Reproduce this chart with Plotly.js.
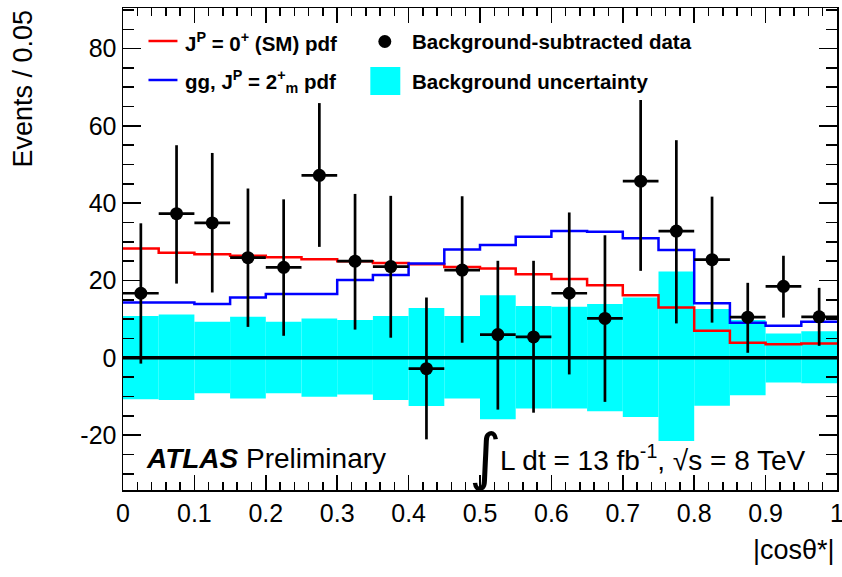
<!DOCTYPE html>
<html>
<head>
<meta charset="utf-8">
<script src="https://cdn.plot.ly/plotly-3.0.1.min.js"></script>
<style>body{margin:0;background:#fff}</style>
</head>
<body>
<div id="chart" style="width:842px;height:577px"></div>
<script>
// ---- data ----
const binCenters = [0.025,0.075,0.125,0.175,0.225,0.275,0.325,0.375,0.425,0.475,
                    0.525,0.575,0.625,0.675,0.725,0.775,0.825,0.875,0.925,0.975];
const binHalfWidth = [0.025,0.025,0.025,0.025,0.025,0.025,0.025,0.025,0.025,0.025,
                      0.025,0.025,0.025,0.025,0.025,0.025,0.025,0.025,0.025,0.025];
const dataValues = [16.7,37.3,34.9,25.9,23.4,47.2,25.0,23.6,-2.8,22.7,
                    6.0,5.4,16.7,10.2,45.7,32.8,25.4,10.5,18.5,10.6];
const dataErrUp   = [18.1,17.7,18.1,17.9,17.6,18.7,17.4,18.3,18.4,19.1,
                     19.1,19.7,20.9,21.5,21.0,23.5,16.3,8.9,7.9,7.5];
const dataErrDown = [18.2,18.1,18.0,17.9,17.7,18.5,17.7,18.4,18.3,18.8,
                     19.4,19.6,21.0,21.6,23.2,23.9,16.3,9.2,8.1,7.5];
const smPdf    = [28.3,27.2,26.8,26.4,26.0,25.5,25.0,24.5,24.2,23.5,
                  23.1,21.6,20.4,18.8,16.2,13.0,7.0,3.9,3.5,3.7];
const spin2Pdf = [14.3,14.3,13.9,15.6,16.5,16.5,20.1,21.4,24.4,28.0,
                  29.2,31.3,32.8,32.6,30.9,27.9,14.1,9.1,8.3,9.3];
const bandUp   = [10.8,11.2,9.3,10.6,9.3,10.2,9.8,10.8,12.9,10.8,
                  16.2,13.4,13.2,13.9,15.6,22.3,12.6,9.8,6.3,6.9];
const bandDown = [-10.7,-10.9,-9.2,-10.5,-9.2,-10.1,-9.5,-10.9,-12.5,-10.5,
                  -15.9,-13.1,-13.1,-13.8,-15.3,-21.5,-12.4,-9.7,-6.4,-6.6];
const xTickVals = [0,0.1,0.2,0.3,0.4,0.5,0.6,0.7,0.8,0.9,1];
const xTickText = ['0','0.1','0.2','0.3','0.4','0.5','0.6','0.7','0.8','0.9','1'];
const yTickVals = [-20,0,20,40,60,80];
const yTickText = ['-20','0','20','40','60','80'];

// ---- helpers ----
function stepEdges(c, hw){ const e = c.map((v,i)=>v-hw[i]); e.push(c[c.length-1]+hw[hw.length-1]); return e; }
function stepVals(v){ const r = v.slice(); r.push(v[v.length-1]); return r; }
const edges = stepEdges(binCenters, binHalfWidth);

const FONT = 'Liberation Sans, Arial, Helvetica, sans-serif';
const L=122.5, R=837, T=8, B=490;
const px = p => (p-L)/(R-L);
const py = p => (B-p)/(B-T);

const traces = [
  { type:'bar', x:binCenters, base:bandDown, y:bandUp.map((u,i)=>u-bandDown[i]),
    width:binHalfWidth.map(h=>2*h), marker:{color:'#00ffff', line:{width:0}},
    hoverinfo:'skip', showlegend:false },
  { type:'scatter', mode:'lines', x:[edges[0], edges[edges.length-1]], y:[0,0],
    line:{color:'#000', width:3.5}, showlegend:false, hoverinfo:'skip' },
  { type:'scatter', mode:'lines', x:edges, y:stepVals(smPdf),
    line:{color:'#ff0000', width:2.5, shape:'hv'}, showlegend:false },
  { type:'scatter', mode:'lines', x:edges, y:stepVals(spin2Pdf),
    line:{color:'#0000ff', width:2.5, shape:'hv'}, showlegend:false },
  { type:'scatter', mode:'markers', x:binCenters, y:dataValues,
    marker:{color:'#000', size:13},
    error_y:{type:'data', symmetric:false, array:dataErrUp, arrayminus:dataErrDown, color:'#000', thickness:2.7, width:0},
    error_x:{type:'data', array:binHalfWidth, color:'#000', thickness:2.7, width:0},
    showlegend:false }
];

const axisCommon = {
  showgrid:false, zeroline:false, showline:true, linecolor:'#000', linewidth:1.5,
  mirror:'allticks', ticks:'inside', tickcolor:'#000', tickwidth:1.5,
  ticklabeloverflow:'allow',
  tickfont:{family:FONT, size:25, color:'#000'}
};

const layout = {
  width:842, height:577,
  margin:{l:L, r:842-R, t:T, b:577-B},
  paper_bgcolor:'#fff', plot_bgcolor:'#fff',
  barmode:'overlay', showlegend:false,
  xaxis: Object.assign({}, axisCommon, {
    range:[0,1], tickmode:'array', tickvals:xTickVals, ticktext:xTickText, ticklen:15,
    minor:{tickmode:'linear', tick0:0, dtick:0.02, ticklen:8, ticks:'inside', tickcolor:'#000', tickwidth:1.5}
  }),
  yaxis: Object.assign({}, axisCommon, {
    range:[-34.2,90.5], tickmode:'array', tickvals:yTickVals, ticktext:yTickText, ticklen:18,
    minor:{tickmode:'linear', tick0:0, dtick:5, ticklen:11, ticks:'inside', tickcolor:'#000', tickwidth:1.5}
  }),
  shapes:[
    {type:'line', xref:'paper', yref:'paper', x0:px(148), x1:px(177), y0:py(41), y1:py(41), line:{color:'#ff0000', width:2.5}},
    {type:'line', xref:'paper', yref:'paper', x0:px(148), x1:px(177), y0:py(80), y1:py(80), line:{color:'#0000ff', width:2.5}},
    {type:'circle', xref:'paper', yref:'paper', x0:px(378), x1:px(391), y0:py(35), y1:py(48), fillcolor:'#000', line:{color:'#000', width:0}},
    {type:'rect', xref:'paper', yref:'paper', x0:px(370), x1:px(400), y0:py(67), y1:py(95), fillcolor:'#00ffff', line:{width:0}}
  ],
  annotations:[
    {xref:'paper', yref:'paper', x:px(183), y:py(42), xanchor:'left', yanchor:'middle', showarrow:false,
     text:'<b>J<sup>P</sup> = 0<sup>+</sup> (SM) pdf</b>', font:{family:FONT, size:20.5, color:'#000'}},
    {xref:'paper', yref:'paper', x:px(183), y:py(81), xanchor:'left', yanchor:'middle', showarrow:false,
     text:'<b>gg, J<sup>P</sup> = 2<sup>+</sup><sub>m</sub> pdf</b>', font:{family:FONT, size:20.5, color:'#000'}},
    {xref:'paper', yref:'paper', x:px(410), y:py(42), xanchor:'left', yanchor:'middle', showarrow:false,
     text:'<b>Background-subtracted data</b>', font:{family:FONT, size:20.5, color:'#000'}},
    {xref:'paper', yref:'paper', x:px(410), y:py(81), xanchor:'left', yanchor:'middle', showarrow:false,
     text:'<b>Background uncertainty</b>', font:{family:FONT, size:20.5, color:'#000'}},
    {xref:'paper', yref:'paper', x:px(144), y:py(458), xanchor:'left', yanchor:'middle', showarrow:false,
     text:'<b><i>ATLAS</i></b> Preliminary', font:{family:FONT, size:28, color:'#000'}},
    {xref:'paper', yref:'paper', x:px(485), y:py(456), xanchor:'center', yanchor:'middle', showarrow:false,
     text:'∫', font:{family:'DejaVu Sans, sans-serif', size:62, color:'#000'}},
    {xref:'paper', yref:'paper', x:px(498), y:py(458), xanchor:'left', yanchor:'middle', showarrow:false,
     text:'L dt = 13 fb<sup>-1</sup>, √s = 8 TeV', font:{family:FONT, size:28, color:'#000'}},
    {xref:'paper', yref:'paper', x:1, y:py(550), xanchor:'right', yanchor:'middle', showarrow:false,
     text:'|cosθ*|', font:{family:FONT, size:27, color:'#000'}},
    {xref:'paper', yref:'paper', x:px(22), y:py(8), xanchor:'center', yanchor:'top', showarrow:false, textangle:-90,
     text:'Events / 0.05', font:{family:FONT, size:27, color:'#000'}}
  ]
};

Plotly.newPlot('chart', traces, layout, {staticPlot:true, displayModeBar:false});
</script>
</body>
</html>
